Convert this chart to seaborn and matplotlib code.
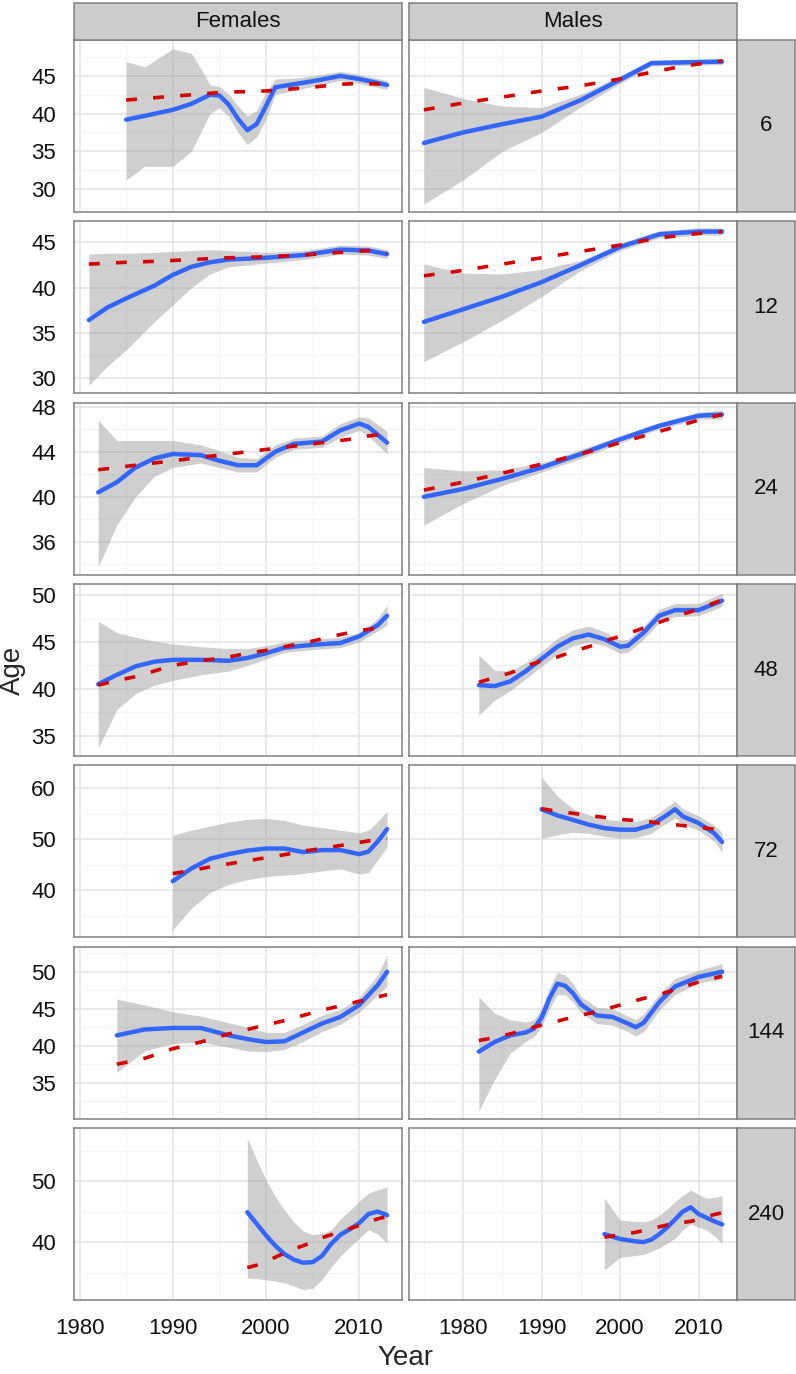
import seaborn as sns
import matplotlib.pyplot as plt
import pandas as pd
from matplotlib.patches import Rectangle
from matplotlib.ticker import MultipleLocator

# ---- data (fit = smooth, lo/hi = band, ref = dashed line) ----
sexes = ["Females", "Males"]
groups = ["6", "12", "24", "48", "72", "144", "240"]

f6_year = [1985, 1987, 1990, 1992, 1993, 1994, 1995, 1996, 1997, 1998, 1999, 2000, 2001, 2003, 2005, 2008, 2010, 2013]
f6_fit = [39.2, 39.7, 40.5, 41.3, 41.9, 42.5, 42.4, 41.2, 39.3, 37.8, 38.6, 41.0, 43.5, 43.9, 44.3, 45.0, 44.6, 43.8]
f6_lo = [31.2, 33.0, 33.0, 35.0, 37.5, 40.0, 40.8, 39.6, 37.5, 35.9, 36.9, 39.3, 42.5, 43.1, 43.6, 44.4, 44.0, 43.2]
f6_hi = [46.9, 46.2, 48.6, 48.0, 46.0, 43.8, 43.6, 42.6, 41.0, 39.7, 40.4, 42.8, 44.6, 44.7, 45.0, 45.6, 45.2, 44.4]
f6_ref = [41.8, 42.0, 42.3, 42.5, 42.6, 42.7, 42.8, 42.8, 42.9, 42.9, 43.0, 43.0, 43.1, 43.3, 43.5, 43.9, 44.0, 43.9]

m6_year = [1975, 1980, 1985, 1990, 1995, 2000, 2004, 2008, 2013]
m6_fit = [36.1, 37.5, 38.6, 39.6, 41.8, 44.5, 46.7, 46.8, 46.9]
m6_lo = [28.0, 31.2, 35.0, 37.5, 40.9, 44.0, 46.3, 46.4, 46.5]
m6_hi = [43.5, 42.0, 41.0, 40.8, 42.6, 45.0, 47.1, 47.2, 47.3]
m6_ref = [40.5, 41.4, 42.2, 43.0, 43.7, 44.6, 45.5, 46.3, 47.0]

f12_year = [1981, 1983, 1985, 1988, 1990, 1992, 1994, 1996, 2000, 2004, 2008, 2011, 2013]
f12_fit = [36.4, 37.8, 38.8, 40.2, 41.4, 42.3, 42.8, 43.1, 43.3, 43.6, 44.2, 44.1, 43.7]
f12_lo = [29.2, 31.3, 33.1, 36.2, 38.1, 40.0, 41.5, 42.3, 42.7, 43.1, 43.7, 43.6, 43.2]
f12_hi = [43.7, 43.8, 43.8, 43.9, 44.0, 44.1, 44.2, 44.1, 43.9, 44.1, 44.7, 44.6, 44.2]
f12_ref = [42.6, 42.7, 42.8, 42.9, 43.0, 43.1, 43.2, 43.3, 43.4, 43.6, 43.9, 44.1, 43.8]

m12_year = [1975, 1980, 1985, 1990, 1995, 2000, 2005, 2010, 2013]
m12_fit = [36.2, 37.6, 39.0, 40.6, 42.5, 44.5, 45.9, 46.2, 46.2]
m12_lo = [31.8, 34.0, 36.4, 39.0, 41.9, 44.1, 45.5, 45.8, 45.8]
m12_hi = [42.6, 41.6, 41.5, 42.0, 43.0, 44.9, 46.3, 46.6, 46.6]
m12_ref = [41.3, 41.9, 42.6, 43.3, 44.0, 44.7, 45.5, 46.0, 46.2]

f24_year = [1982, 1984, 1986, 1988, 1990, 1993, 1995, 1997, 1999, 2001, 2003, 2006, 2008, 2010, 2011, 2013]
f24_fit = [40.4, 41.3, 42.6, 43.4, 43.8, 43.7, 43.2, 42.8, 42.8, 44.0, 44.7, 44.9, 45.9, 46.5, 46.2, 44.8]
f24_lo = [33.8, 37.5, 40.0, 41.8, 42.6, 43.0, 42.6, 42.2, 42.2, 43.5, 44.2, 44.4, 45.3, 45.9, 45.4, 43.8]
f24_hi = [46.8, 45.0, 45.0, 45.0, 45.0, 44.6, 44.1, 43.5, 43.4, 44.6, 45.2, 45.4, 46.5, 47.1, 47.0, 45.8]
f24_ref = [42.4, 42.6, 42.8, 43.0, 43.2, 43.5, 43.7, 43.9, 44.1, 44.3, 44.5, 44.8, 45.0, 45.2, 45.4, 45.6]

m24_year = [1975, 1980, 1985, 1990, 1995, 2000, 2005, 2010, 2013]
m24_fit = [40.0, 40.7, 41.6, 42.6, 43.8, 45.1, 46.3, 47.2, 47.3]
m24_lo = [37.5, 39.4, 41.0, 42.2, 43.4, 44.8, 46.0, 46.9, 46.9]
m24_hi = [42.6, 42.3, 42.4, 43.0, 44.2, 45.4, 46.6, 47.5, 47.7]
m24_ref = [40.6, 41.3, 42.1, 42.9, 43.8, 44.8, 45.8, 46.8, 47.3]

f48_year = [1982, 1984, 1986, 1988, 1990, 1993, 1996, 1998, 2000, 2002, 2005, 2008, 2010, 2012, 2013]
f48_fit = [40.5, 41.5, 42.4, 42.9, 43.1, 43.1, 43.0, 43.3, 43.8, 44.4, 44.7, 44.9, 45.6, 46.8, 47.8]
f48_lo = [33.7, 37.8, 39.5, 40.4, 40.9, 41.5, 41.9, 42.5, 43.2, 43.9, 44.2, 44.4, 45.0, 46.2, 46.8]
f48_hi = [47.2, 46.0, 45.5, 45.1, 44.8, 44.5, 44.3, 44.3, 44.6, 45.0, 45.3, 45.5, 46.0, 47.5, 48.9]
f48_ref = [40.4, 40.9, 41.3, 41.9, 42.5, 43.0, 43.4, 43.8, 44.1, 44.5, 45.1, 45.8, 46.2, 46.5, 46.6]

m48_year = [1982, 1984, 1986, 1988, 1990, 1992, 1994, 1996, 1998, 2000, 2001, 2003, 2005, 2007, 2010, 2013]
m48_fit = [40.4, 40.3, 40.8, 41.9, 43.2, 44.5, 45.4, 45.8, 45.3, 44.5, 44.6, 46.0, 47.8, 48.4, 48.4, 49.4]
m48_lo = [37.2, 38.8, 39.8, 41.1, 42.4, 43.7, 44.6, 45.0, 44.6, 43.8, 43.9, 45.3, 47.1, 47.7, 47.8, 48.8]
m48_hi = [43.6, 42.0, 41.9, 42.8, 44.0, 45.4, 46.3, 46.7, 46.1, 45.2, 45.3, 46.7, 48.5, 49.1, 49.1, 50.2]
m48_ref = [40.7, 41.2, 41.7, 42.4, 43.0, 43.4, 44.0, 44.5, 45.1, 45.6, 45.9, 46.5, 47.1, 47.7, 48.5, 49.5]

f72_year = [1990, 1992, 1994, 1996, 1998, 2000, 2002, 2004, 2006, 2008, 2010, 2011, 2012, 2013]
f72_fit = [41.8, 44.3, 46.2, 47.1, 47.8, 48.2, 48.2, 47.5, 47.9, 47.9, 47.1, 47.6, 49.6, 52.0]
f72_lo = [32.3, 36.5, 39.6, 41.2, 42.1, 42.7, 43.0, 43.3, 43.8, 44.2, 43.2, 43.5, 46.0, 48.5]
f72_hi = [50.8, 51.8, 52.6, 53.4, 53.9, 54.1, 53.7, 52.8, 52.3, 51.8, 51.3, 51.8, 53.5, 55.5]
f72_ref = [43.3, 43.9, 44.6, 45.2, 45.8, 46.4, 47.0, 47.7, 48.2, 48.8, 49.4, 49.7, 49.9, 50.1]

m72_year = [1990, 1992, 1994, 1996, 1998, 2000, 2002, 2004, 2005, 2006, 2007, 2008, 2010, 2012, 2013]
m72_fit = [55.9, 54.7, 53.8, 52.9, 52.2, 51.9, 51.9, 52.8, 53.8, 54.8, 55.9, 54.5, 53.2, 51.2, 49.5]
m72_lo = [50.2, 50.9, 51.4, 51.2, 50.6, 50.2, 50.3, 51.2, 52.3, 53.2, 54.2, 53.0, 51.8, 49.6, 47.5]
m72_hi = [62.2, 58.5, 56.0, 54.8, 54.0, 53.6, 53.5, 54.3, 55.3, 56.4, 57.5, 56.0, 54.6, 52.8, 51.3]
m72_ref = [56.0, 55.5, 55.1, 54.7, 54.3, 53.9, 53.7, 53.4, 53.2, 53.0, 52.9, 52.7, 52.4, 52.0, 51.8]

f144_year = [1984, 1987, 1990, 1993, 1996, 1998, 2000, 2002, 2004, 2006, 2008, 2010, 2012, 2013]
f144_fit = [41.4, 42.2, 42.4, 42.4, 41.4, 40.9, 40.5, 40.6, 41.8, 43.0, 43.9, 45.5, 48.2, 50.0]
f144_lo = [36.4, 39.3, 40.3, 40.5, 39.8, 39.3, 39.2, 39.5, 40.6, 41.9, 42.9, 44.5, 46.9, 48.0]
f144_hi = [46.3, 45.5, 44.6, 44.0, 43.1, 42.5, 41.8, 41.8, 42.9, 44.1, 44.9, 46.5, 49.6, 52.3]
f144_ref = [37.5, 38.3, 39.6, 40.5, 41.6, 42.2, 42.8, 43.4, 44.1, 44.8, 45.4, 46.0, 46.6, 46.9]

m144_year = [1982, 1984, 1986, 1988, 1989, 1990, 1991, 1992, 1993, 1994, 1995, 1997, 1999, 2001, 2002, 2003, 2005, 2007, 2010, 2013]
m144_fit = [39.2, 40.5, 41.4, 41.8, 42.3, 43.8, 46.4, 48.4, 48.1, 47.1, 45.6, 44.1, 43.9, 43.0, 42.5, 43.1, 45.9, 48.0, 49.3, 50.0]
m144_lo = [31.2, 35.4, 39.0, 40.6, 41.2, 42.6, 45.0, 46.9, 46.9, 45.9, 44.5, 43.0, 42.8, 41.9, 41.3, 41.9, 44.8, 46.9, 48.5, 49.0]
m144_hi = [46.6, 44.4, 43.5, 43.2, 43.5, 45.0, 47.8, 49.9, 49.6, 48.4, 46.7, 45.2, 45.0, 44.0, 43.5, 44.3, 47.0, 49.1, 50.2, 51.1]
m144_ref = [40.7, 41.1, 41.6, 42.2, 42.5, 42.8, 43.1, 43.3, 43.6, 43.8, 44.1, 44.6, 45.2, 45.8, 46.1, 46.4, 46.9, 47.6, 48.6, 49.4]

f240_year = [1998, 1999, 2000, 2001, 2002, 2003, 2004, 2005, 2006, 2007, 2008, 2009, 2010, 2011, 2012, 2013]
f240_fit = [44.9, 43.0, 41.1, 39.4, 38.0, 37.1, 36.6, 36.7, 37.7, 39.7, 41.2, 42.1, 43.1, 44.6, 45.0, 44.4]
f240_lo = [34.1, 34.0, 33.8, 33.6, 33.3, 32.8, 32.2, 32.4, 33.8, 35.9, 37.7, 39.2, 40.6, 42.0, 41.3, 39.8]
f240_hi = [57.0, 53.5, 50.2, 47.5, 45.2, 43.3, 41.8, 41.2, 41.4, 42.0, 43.8, 45.2, 46.7, 48.0, 48.6, 49.0]
f240_ref = [35.8, 36.2, 36.8, 37.5, 38.2, 38.9, 39.4, 40.0, 40.7, 41.2, 41.7, 42.2, 42.7, 43.3, 43.8, 44.2]

m240_year = [1998, 2000, 2002, 2003, 2004, 2005, 2006, 2007, 2008, 2009, 2010, 2011, 2012, 2013]
m240_fit = [41.3, 40.5, 40.1, 40.0, 40.4, 41.3, 42.4, 43.7, 45.0, 45.7, 44.6, 44.0, 43.4, 42.9]
m240_lo = [35.4, 37.5, 37.8, 38.0, 38.5, 39.0, 39.8, 40.6, 42.0, 43.0, 42.4, 42.0, 41.0, 39.8]
m240_hi = [47.2, 43.6, 43.4, 43.3, 43.6, 44.4, 45.4, 46.6, 47.7, 48.5, 47.8, 47.2, 47.3, 47.6]
m240_ref = [40.8, 41.2, 41.6, 41.9, 42.2, 42.5, 42.8, 43.0, 43.2, 43.4, 43.7, 44.1, 44.5, 44.8]

y_limits = {"6": (26.95, 49.77), "12": (28.3, 47.33), "24": (33.1, 48.35), "48": (32.85, 51.18),
            "72": (30.8, 64.5), "144": (30.14, 53.38), "240": (30.49, 58.69)}
y_steps = {"6": 5, "12": 5, "24": 4, "48": 5, "72": 10, "144": 5, "240": 10}
x_limits = {"Females": (1979.4, 2014.6), "Males": (1973.1, 2014.9)}

panels = [
    ("Females", "6", f6_year, f6_fit, f6_lo, f6_hi, f6_ref),
    ("Males", "6", m6_year, m6_fit, m6_lo, m6_hi, m6_ref),
    ("Females", "12", f12_year, f12_fit, f12_lo, f12_hi, f12_ref),
    ("Males", "12", m12_year, m12_fit, m12_lo, m12_hi, m12_ref),
    ("Females", "24", f24_year, f24_fit, f24_lo, f24_hi, f24_ref),
    ("Males", "24", m24_year, m24_fit, m24_lo, m24_hi, m24_ref),
    ("Females", "48", f48_year, f48_fit, f48_lo, f48_hi, f48_ref),
    ("Males", "48", m48_year, m48_fit, m48_lo, m48_hi, m48_ref),
    ("Females", "72", f72_year, f72_fit, f72_lo, f72_hi, f72_ref),
    ("Males", "72", m72_year, m72_fit, m72_lo, m72_hi, m72_ref),
    ("Females", "144", f144_year, f144_fit, f144_lo, f144_hi, f144_ref),
    ("Males", "144", m144_year, m144_fit, m144_lo, m144_hi, m144_ref),
    ("Females", "240", f240_year, f240_fit, f240_lo, f240_hi, f240_ref),
    ("Males", "240", m240_year, m240_fit, m240_lo, m240_hi, m240_ref),
]

frames = []
for sex, grp, yr, fit, lo, hi, ref in panels:
    frames.append(pd.DataFrame({"sex": sex, "group": grp, "year": yr,
                                "fit": fit, "lo": lo, "hi": hi, "ref": ref}))
df = pd.concat(frames, ignore_index=True)

# ---- style ----
sns.set_style("white")
plt.rcParams["font.family"] = ["Liberation Sans", "DejaVu Sans"]

W, H = 796, 1374
g = sns.FacetGrid(df, row="group", col="sex", row_order=groups, col_order=sexes,
                  sharex="col", sharey="row", height=H / 100 / 7,
                  aspect=(W / 100 / 2) / (H / 100 / 7), despine=False)


def ribbon(data, color=None, **kws):
    plt.gca().fill_between(data["year"], data["lo"], data["hi"],
                           color="#A0A0A0", alpha=0.5, lw=0, zorder=1)


g.map_dataframe(ribbon)
g.map_dataframe(sns.lineplot, x="year", y="fit", color="#3366FF", lw=3.2, zorder=3)
g.map_dataframe(sns.lineplot, x="year", y="ref", color="#D40000", lw=2.6,
                linestyle=(0, (3, 4.5)), zorder=4)

fig = g.figure
fig.set_size_inches(W / 100, H / 100)
fig.subplots_adjust(left=74 / W, right=737 / W, top=1 - 40 / H, bottom=1 - 1300 / H,
                    wspace=7 / 328, hspace=0.055)

axes = g.axes
for i, grp in enumerate(groups):
    for j, sex in enumerate(sexes):
        ax = axes[i, j]
        ax.set_title("")
        ax.set_xlabel("")
        ax.set_ylabel("")
        ax.set_xlim(*x_limits[sex])
        ax.set_ylim(*y_limits[grp])
        ax.xaxis.set_major_locator(MultipleLocator(10))
        ax.xaxis.set_minor_locator(MultipleLocator(5))
        ax.yaxis.set_major_locator(MultipleLocator(y_steps[grp]))
        ax.yaxis.set_minor_locator(MultipleLocator(y_steps[grp] / 2))
        ax.set_axisbelow(True)
        ax.grid(which="major", color="#E3E3E3", lw=1.1)
        ax.grid(which="minor", color="#F4F4F4", lw=0.8)
        for s in ax.spines.values():
            s.set_color("#808080")
            s.set_linewidth(1.1)
        ax.tick_params(which="minor", length=0)
        ax.tick_params(axis="y", length=8 if j == 0 else 0, width=1.1, color="#333333",
                       pad=5, labelsize=16, labelcolor="#111111")
        ax.tick_params(axis="x", length=7 if i == len(groups) - 1 else 0, width=1.1,
                       color="#333333", pad=6, labelsize=16, labelcolor="#111111")

# strips
strip_fill, strip_edge = "#CCCCCC", "#808080"
for j, sex in enumerate(sexes):
    pos = axes[0, j].get_position()
    h = 37 / H
    fig.add_artist(Rectangle((pos.x0, pos.y1), pos.width, h, transform=fig.transFigure,
                             facecolor=strip_fill, edgecolor=strip_edge, lw=1.1))
    fig.text(pos.x0 + pos.width / 2, pos.y1 + h / 2, sex, ha="center", va="center",
             fontsize=16, color="#111111")
for i, grp in enumerate(groups):
    pos = axes[i, 1].get_position()
    w = 58 / W
    fig.add_artist(Rectangle((pos.x1, pos.y0), w, pos.height, transform=fig.transFigure,
                             facecolor=strip_fill, edgecolor=strip_edge, lw=1.1))
    fig.text(pos.x1 + w / 2, pos.y0 + pos.height / 2, grp, ha="center", va="center",
             fontsize=16, color="#111111")

fig.text(13 / W, 1 - 670 / H, "Age", rotation=90, ha="center", va="center", fontsize=20)
fig.text(405 / W, 1 - 1358 / H, "Year", ha="center", va="center", fontsize=20)

fig.savefig("out.png", dpi=100)
plt.close(fig)
